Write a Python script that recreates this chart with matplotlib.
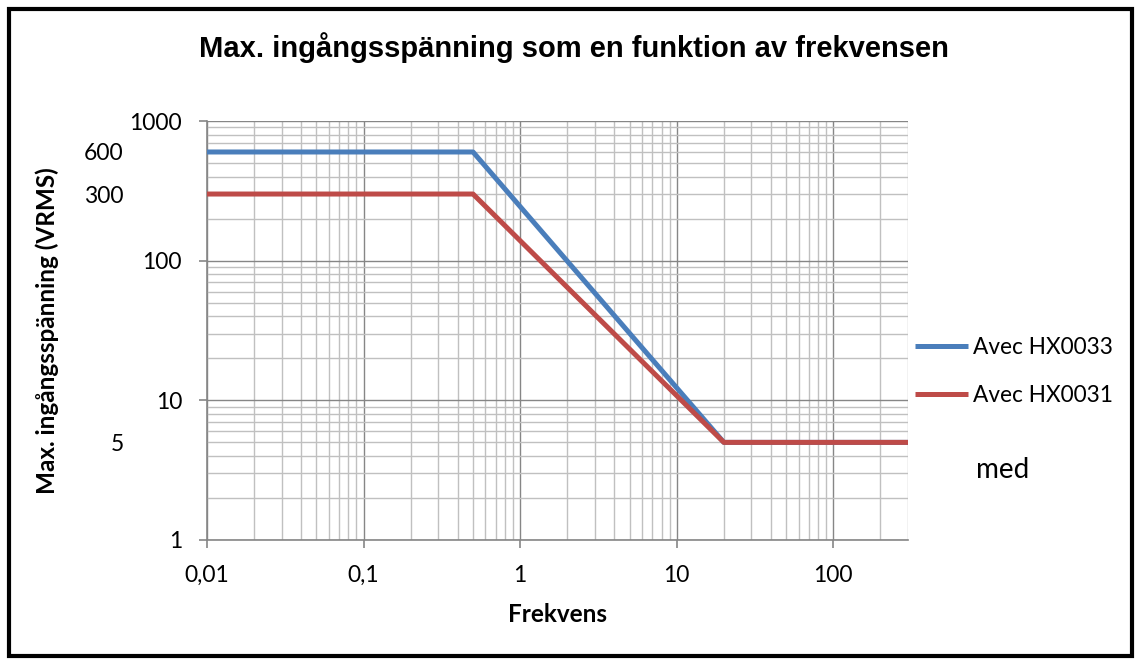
import matplotlib
matplotlib.use("Agg")
import matplotlib.pyplot as plt
from matplotlib.ticker import FixedLocator, FuncFormatter, NullFormatter
from matplotlib.patches import Rectangle

# frequency breakpoints and max input voltage
freq = [0.01, 0.5, 20, 300]
hx0033 = [600, 600, 5, 5]
hx0031 = [300, 300, 5, 5]

title = "Max. ingångsspänning som en funktion av frekvensen"
xlabel = "Frekvens"
ylabel = "Max. ingångsspänning (VRMS)"
labels = ["Avec HX0033", "Avec HX0031"]
note = "med"

xticks = [0.01, 0.1, 1, 10, 100]
xticklabels = ["0,01", "0,1", "1", "10", "100"]
yticks = [1, 10, 100, 1000]
yextra = [5, 300, 600]

W, H = 1141, 664
fig = plt.figure(figsize=(W / 100, H / 100), dpi=100)
ax = fig.add_axes([207 / W, 1 - 540 / H, 701 / W, 419 / H])

ax.plot(freq, hx0033, color="#4a7ebb", lw=3.6, solid_capstyle="butt", label=labels[0], zorder=3)
ax.plot(freq, hx0031, color="#be4b48", lw=3.6, solid_capstyle="butt", label=labels[1], zorder=4)

ax.set_xscale("log")
ax.set_yscale("log")
ax.set_xlim(0.01, 300)
ax.set_ylim(1, 1000)

tickfont = "Lato"
ax.xaxis.set_major_locator(FixedLocator(xticks))
ax.xaxis.set_major_formatter(FuncFormatter(lambda v, p: xticklabels[xticks.index(v)] if v in xticks else ""))
xminor = [m * 10.0 ** e for e in range(-2, 3) for m in range(2, 10) if m * 10.0 ** e <= 300]
ax.xaxis.set_minor_locator(FixedLocator(xminor))
ax.xaxis.set_minor_formatter(NullFormatter())

ax.yaxis.set_major_locator(FixedLocator(yticks))
ax.yaxis.set_major_formatter(FuncFormatter(lambda v, p: "%d" % v))
yminor = [m * 10.0 ** e for e in range(0, 3) for m in range(2, 10)]
ax.yaxis.set_minor_locator(FixedLocator(yminor))
ax.yaxis.set_minor_formatter(FuncFormatter(lambda v, p: "%d" % round(v) if round(v) in yextra else ""))

ax.tick_params(axis="both", which="major", length=6, width=1.2, color="#868686", labelsize=16.5)
ax.tick_params(axis="x", which="major", pad=12)
ax.tick_params(axis="y", which="major", pad=12)
ax.tick_params(axis="both", which="minor", length=0, labelsize=16.5)
ax.tick_params(axis="y", which="minor", pad=60)
for lab in ax.get_xticklabels() + ax.get_yticklabels() + ax.get_yticklabels(minor=True):
    lab.set_family(tickfont)

ax.grid(True, which="major", color="#868686", lw=1.0)
ax.grid(True, which="minor", color="#c0c0c0", lw=1.0)
ax.set_axisbelow(True)
for s in ["top", "right"]:
    ax.spines[s].set_visible(False)
for s in ["left", "bottom"]:
    ax.spines[s].set_color("#868686")
    ax.spines[s].set_linewidth(1.2)

ax.set_xlabel(xlabel, fontsize=17.5, fontweight="bold", family=tickfont)
ax.xaxis.set_label_coords(0.5, -(615 - 540) / 419)
ax.xaxis.label.set_va("center")
ax.set_ylabel(ylabel, fontsize=17.5, fontweight="bold", family=tickfont)
ax.yaxis.set_label_coords(-(207 - 47) / 701, 0.5)
ax.yaxis.label.set_va("center")

fig.text(0.503, 1 - 48 / H, title, ha="center", va="center", fontsize=21,
         fontweight="bold", family="Liberation Sans")

leg = ax.legend(loc="upper left", bbox_to_anchor=(915 / W, 1 - 337 / H),
                bbox_transform=fig.transFigure, frameon=False,
                handlelength=2.35, handletextpad=0.2, labelspacing=1.2,
                borderpad=0, borderaxespad=0, prop={"family": tickfont, "size": 16.3})
fig.text(976 / W, 1 - 470 / H, note, ha="left", va="center", fontsize=20, family=tickfont)

fig.patches.append(Rectangle((9 / W, 8 / H), 1 - 18 / W, 1 - 17 / H, transform=fig.transFigure,
                             fill=False, edgecolor="black", lw=3))

fig.savefig("out.png", dpi=100)
